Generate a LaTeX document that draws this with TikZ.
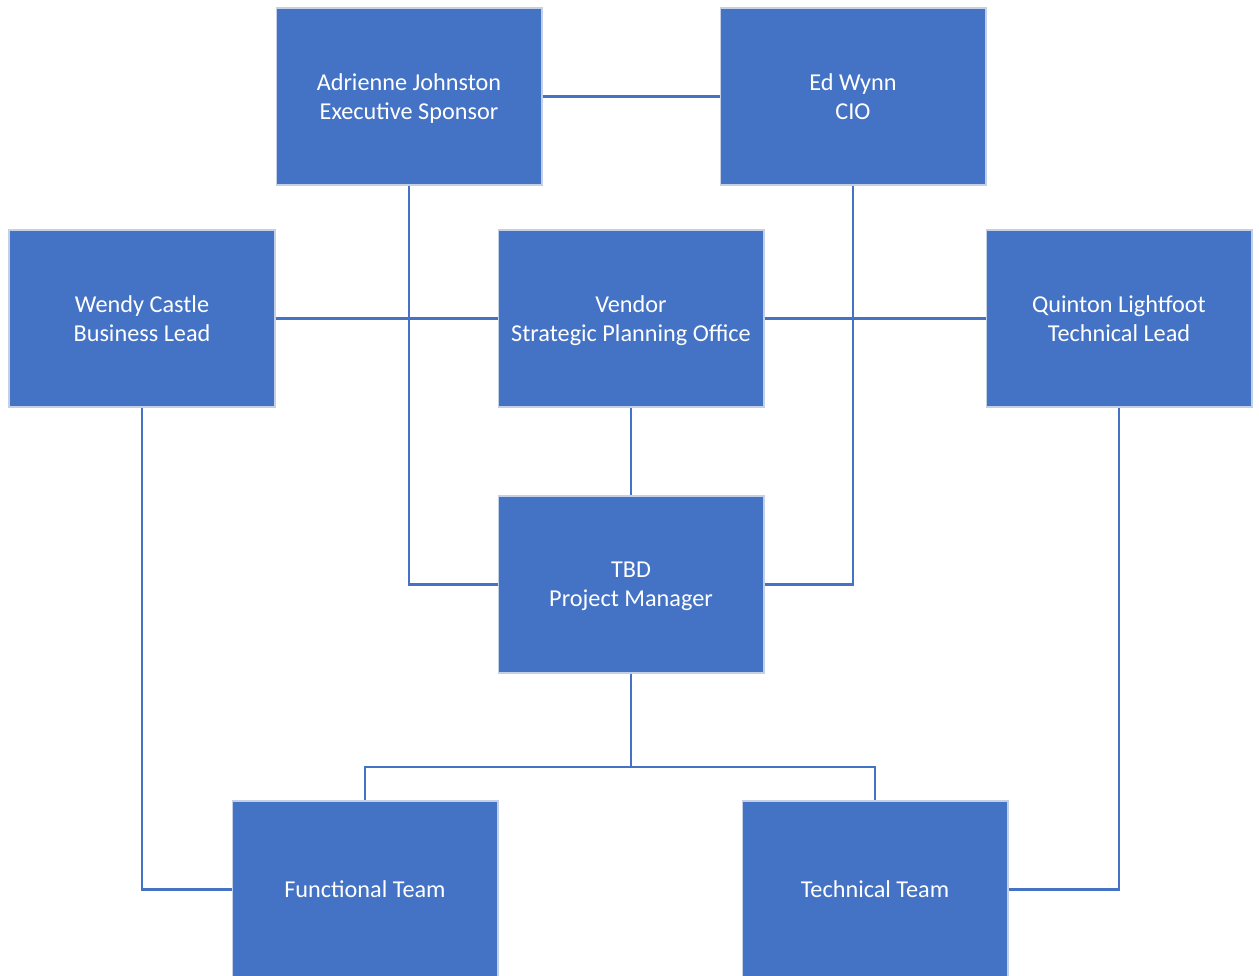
\documentclass[tikz,border=0pt]{standalone}
\usepackage{fontspec}
\setmainfont{Carlito}
\usetikzlibrary{positioning}
\definecolor{boxblue}{RGB}{68,114,196}
\definecolor{boxedge}{RGB}{196,208,230}

\begin{document}
\begin{tikzpicture}[x=0.02cm, y=-0.02cm,
        role/.style={rectangle, draw=boxedge, line width=0.6pt, fill=boxblue, text=white,
            minimum width=5.32cm, minimum height=3.54cm, inner sep=0pt, align=center,
            text depth=0pt, font=\fontsize{13.8}{16.5}\selectfont},
        link/.style={draw=boxblue, line width=1.4pt}]
                \useasboundingbox (0,0) rectangle (1259,976);
                \clip (0,0) rectangle (1259,976);

                \node[role] (sponsor) at (409,96.5) {Adrienne Johnston\\Executive Sponsor};
                \node[role] (cio) at (853,96.5) {Ed Wynn\\CIO};
                \node[role] (business) at (142,318.5) {Wendy Castle\\Business Lead};
                \node[role] (vendor) at (631,318.5) {Vendor\\Strategic Planning Office};
                \node[role] (techlead) at (1119,318.5) {Quinton Lightfoot\\Technical Lead};
                \node[role] (pm) at (631,584.5) {TBD\\Project Manager};
                \node[role] (functional) at (365,889.5) {Functional Team};
                \node[role] (techteam) at (875,889.5) {Technical Team};
                \coordinate (split) at (631,767);

                \path[link]
                    (sponsor) -- (cio)
                    (sponsor) |- (pm)
                    (cio) |- (pm)
                    (business) -- (vendor)
                    (vendor) -- (techlead)
                    (vendor) -- (pm)
                    (pm) -- (split)
                    (split) -| (functional)
                    (split) -| (techteam)
                    (business) |- (functional)
                    (techlead) |- (techteam)
                    ;
            \end{tikzpicture}
\end{document}
